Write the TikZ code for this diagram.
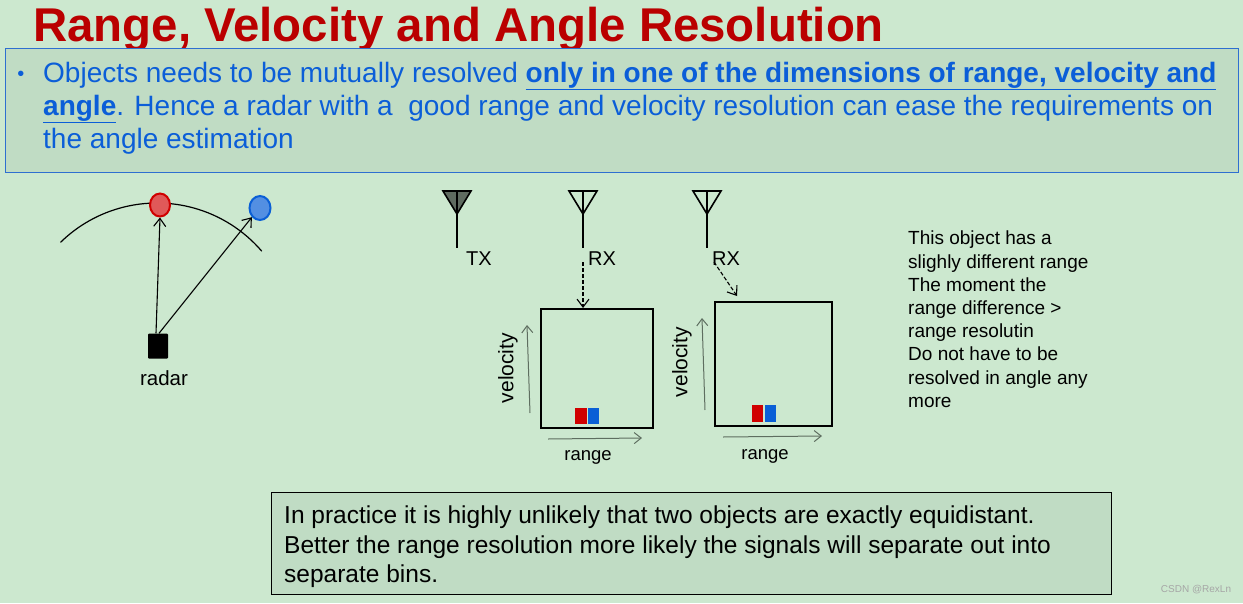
\documentclass[tikz,border=0pt]{standalone}
\usepackage{fontspec}
\setmainfont{Liberation Sans}
\usetikzlibrary{arrows.meta,shapes.geometric}
\definecolor{bg}{HTML}{CCE8CF}
\definecolor{boxfill}{HTML}{C0DCC4}
\definecolor{titlered}{HTML}{BA0000}
\definecolor{txtblue}{HTML}{0B5ED8}
\definecolor{boxblue}{HTML}{2E6FD0}
\definecolor{axisgray}{HTML}{5E6E60}
\definecolor{objred}{HTML}{D00000}
\definecolor{objblue}{HTML}{0A5FD6}
\definecolor{txfill}{HTML}{5F6B60}
\tikzset{
  lbl/.style={inner sep=0pt, font=\fontsize{17}{20}\selectfont},
  axis/.style={draw=axisgray, line width=1pt, -{Straight Barb[length=7pt,width=11pt]}},
  rdarrow/.style={draw=black, line width=1.1pt, -{Straight Barb[length=8pt,width=12pt]}},
  dasharr/.style={draw=black, line width=1.1pt, dash pattern=on 4pt off 2pt, -{Straight Barb[length=8pt,width=12pt]}},
  rdbox/.style={draw=black, line width=1.6pt},
  antline/.style={draw=black, line width=2.2pt},
}
\begin{document}
\begin{tikzpicture}[x=1pt,y=-1pt]
\useasboundingbox (0,0) rectangle (1243,603);
\fill[bg] (0,0) rectangle (1243,603);
% title
\node[anchor=base west, inner sep=0pt, text=titlered, font=\fontsize{47.4}{50}\selectfont\bfseries] (title) at (33,41) {Range, Velocity and Angle Resolution};
% top box
\node[draw=boxblue, line width=1.2pt, fill=boxfill, minimum width=1233pt, minimum height=124pt, anchor=north west, inner sep=0pt] (topbox) at (5,48) {};
\node[text=txtblue, font=\fontsize{20}{24}\selectfont, inner sep=0pt, anchor=base] (bullet) at (21,80) {•};
\node[anchor=base west, inner sep=0pt, text=txtblue, font=\fontsize{28}{32}\selectfont] (l1) at (43,82) {Objects needs to be mutually resolved \underline{\textbf{only in one of the dimensions of range, velocity and}}};
\node[anchor=base west, inner sep=0pt, text=txtblue, font=\fontsize{28}{32}\selectfont] (l2) at (43,115) {\underline{\textbf{angle}}. Hence a radar with a\ \ good range and velocity resolution can ease the requirements on};
\node[anchor=base west, inner sep=0pt, text=txtblue, font=\fontsize{28}{32}\selectfont] (l3) at (43,148) {the angle estimation};
% left figure
\coordinate (arcc) at (157,341);
\draw[black, line width=1.2pt] (arcc) ++(-134.4:138) arc[start angle=-134.4, end angle=-40.6, radius=138];
\node[draw=objred, fill=objred!65!white, line width=2pt, ellipse, minimum width=20pt, minimum height=23pt, inner sep=0pt] (redobj) at (160,205) {};
\node[draw=objblue, fill=objblue!70!white, line width=2pt, ellipse, minimum width=21pt, minimum height=24pt, inner sep=0pt] (blueobj) at (260,208) {};
\node[fill=black, rounded corners=1pt, minimum width=20pt, minimum height=25pt, inner sep=0pt] (radar) at (158,346) {};
\node[lbl, font=\fontsize{20.5}{24}\selectfont] (radarlbl) at (164,378) {radar};
\draw[rdarrow] ([xshift=-2pt]radar.north) -- (redobj.south);
\draw[rdarrow] ([xshift=1pt]radar.north) -- (blueobj.south west);
% antennas
\coordinate (tx) at (457,214);
\fill[txfill] (443,191) -- (471,191) -- (tx) -- cycle;
\draw[antline, line width=1.6pt] (443,191) -- (471,191) -- (tx) -- cycle;
\draw[antline, line width=1.6pt] (457,191) -- (tx);
\draw[antline] (tx) -- (457,248);
\node[lbl, font=\fontsize{20}{24}\selectfont, anchor=west] (txlbl) at (466,259) {TX};
\coordinate (rx1) at (583,214);
\draw[antline, line width=1.6pt] (569,191) -- (597,191) -- (rx1) -- cycle;
\draw[antline, line width=1.6pt] (583,191) -- (rx1);
\draw[antline] (rx1) -- (583,248);
\node[lbl, font=\fontsize{20}{24}\selectfont, anchor=west] (rx1lbl) at (588,259) {RX};
\coordinate (rx2) at (707,214);
\draw[antline, line width=1.6pt] (693,191) -- (721,191) -- (rx2) -- cycle;
\draw[antline, line width=1.6pt] (707,191) -- (rx2);
\draw[antline] (rx2) -- (707,248);
\node[lbl, font=\fontsize{20}{24}\selectfont, anchor=west] (rx2lbl) at (712,259) {RX};
% range-velocity boxes
\node[rdbox, minimum width=112pt, minimum height=119pt, inner sep=0pt, anchor=north west] (box1) at (540,308) {};
\node[rdbox, minimum width=117pt, minimum height=124pt, inner sep=0pt, anchor=north west] (box2) at (714,301) {};
\coordinate (d1s) at (583,262);
\coordinate (d2s) at (714,262);
\draw[dasharr] (d1s) -- (box1.north -| d1s);
\coordinate (d2e) at (737,296);
\draw[dasharr] (d2s) -- (d2e);
% objects in bins
\fill[objred] (575,408) rectangle (587,424);
\fill[objblue] (588,408) rectangle (599,424);
\fill[objred] (752,405) rectangle (763,422);
\fill[objblue] (765,405) rectangle (776,422);
% axes
\coordinate (v1a) at (530,413); \coordinate (v1b) at (527,325);
\draw[axis] (v1a) -- (v1b);
\node[lbl, rotate=90, font=\fontsize{21}{24}\selectfont] (v1lbl) at (508,368) {velocity};
\coordinate (v2a) at (705,410); \coordinate (v2b) at (702,318);
\draw[axis] (v2a) -- (v2b);
\node[lbl, rotate=90, font=\fontsize{21}{24}\selectfont] (v2lbl) at (682,362) {velocity};
\coordinate (r1a) at (548,439); \coordinate (r1b) at (642,438);
\draw[axis] (r1a) -- (r1b);
\node[lbl, font=\fontsize{18.5}{21}\selectfont] (r1lbl) at (588,457) {range};
\coordinate (r2a) at (723,437); \coordinate (r2b) at (822,436);
\draw[axis] (r2a) -- (r2b);
\node[lbl, font=\fontsize{18.5}{21}\selectfont] (r2lbl) at (765,456) {range};
% right note
\node[anchor=north west, inner sep=0pt, align=left, font=\fontsize{19}{23.2}\selectfont] (note) at (908,231) {This object has a\\slighly different range\\The moment the\\range difference >\\range resolutin\\Do not have to be\\resolved in angle any\\more};
% bottom box
\node[draw=black, line width=1.2pt, fill=boxfill, minimum width=840pt, minimum height=102pt, inner sep=0pt, anchor=north west] (botbox) at (271,492) {};
\node[anchor=base west, inner sep=0pt, font=\fontsize{24.5}{28}\selectfont] (b1) at (284,523) {In practice it is highly unlikely that two objects are exactly equidistant.};
\node[anchor=base west, inner sep=0pt, font=\fontsize{24.5}{28}\selectfont] (b2) at (284,553) {Better the range resolution more likely the signals will separate out into};
\node[anchor=base west, inner sep=0pt, font=\fontsize{24.5}{28}\selectfont] (b3) at (284,582) {separate bins.};
\node[inner sep=0pt, text=gray!70, font=\fontsize{10}{11}\selectfont] (wm) at (1196,590) {CSDN @RexLn};
\end{tikzpicture}
\end{document}
